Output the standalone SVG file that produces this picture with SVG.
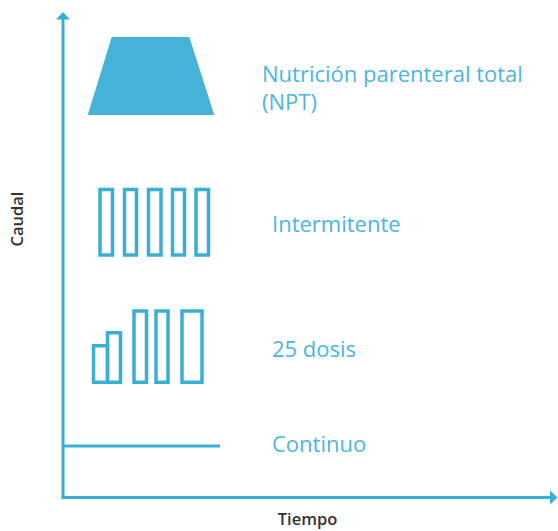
<svg xmlns="http://www.w3.org/2000/svg" width="558" height="531" viewBox="0 0 558 531">
<style>
.ax{stroke:#3aafd6;stroke-width:3;fill:none}
.ah{fill:#3aafd6}
.bar{fill:none;stroke:#3aafd6;stroke-width:3.5}
.lbl{font-family:"Open Sans","Liberation Sans",sans-serif;font-size:22px;fill:#4bb6dd}
.axl{font-family:"Open Sans","Liberation Sans",sans-serif;font-size:16.5px;font-weight:600;fill:#333333}
</style>
<rect width="558" height="531" fill="#ffffff"/>
<g id="connectors">
<line class="ax" x1="63" y1="497.5" x2="63" y2="18"/>
<polygon class="ah" points="56,19.5 70,19.5 63,12"/>
<line class="ax" x1="61.5" y1="497.5" x2="551" y2="497.5"/>
<polygon class="ah" points="550,490.5 550,504.5 557.5,497.5"/>
</g>
<g id="axis-labels">
<text class="axl" transform="translate(23,219) rotate(-90)" text-anchor="middle">Caudal</text>
<text class="axl" x="307.5" y="525" text-anchor="middle">Tiempo</text>
</g>
<g id="npt">
<polygon points="111.7,37 189.3,37 214.3,115 87.7,115" fill="#45b3d8"/>
<text class="lbl" x="262" y="82">Nutrición parenteral total</text>
<text class="lbl" x="262" y="109.5">(NPT)</text>
</g>
<g id="intermitente">
<rect class="bar" x="100" y="189.5" width="12.5" height="65.5"/>
<rect class="bar" x="124.5" y="189.5" width="12" height="65.5"/>
<rect class="bar" x="148.5" y="189.5" width="12.5" height="65.5"/>
<rect class="bar" x="172.5" y="189.5" width="12" height="65.5"/>
<rect class="bar" x="196" y="189.5" width="12.5" height="65.5"/>
<text class="lbl" x="272" y="232">Intermitente</text>
</g>
<g id="dosis">
<rect class="bar" x="93.5" y="345.75" width="14" height="36.5"/>
<rect class="bar" x="107.5" y="332.75" width="13" height="49.5"/>
<rect class="bar" x="134" y="311" width="12.5" height="71.25"/>
<rect class="bar" x="156" y="311" width="12" height="71.25"/>
<rect class="bar" x="182" y="311" width="20" height="71.25"/>
<text class="lbl" x="272" y="357">25 dosis</text>
</g>
<g id="continuo">
<line class="ax" x1="63" y1="446" x2="220" y2="446"/>
<text class="lbl" x="272" y="452">Continuo</text>
</g>
</svg>
